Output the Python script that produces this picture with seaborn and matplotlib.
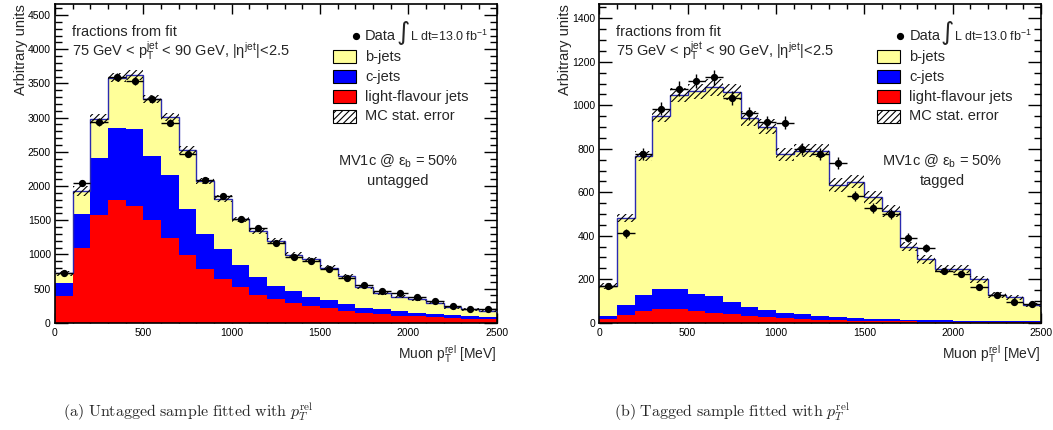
import numpy as np
import pandas as pd
import matplotlib
matplotlib.use("Agg")
import matplotlib.pyplot as plt
from matplotlib.patches import Rectangle
from matplotlib.ticker import MultipleLocator
import seaborn as sns

# ---------------- data ----------------
bin_edges = list(range(0, 2600, 100))          # Muon pT^rel bins [MeV]
flavours = ["b-jets", "c-jets", "light-flavour jets"]

# untagged sample: cumulative tops of the stack
untag_total = [722, 1930, 2980, 3585, 3625, 3273, 3015, 2522, 2073, 1815, 1512, 1340, 1195,
               990, 927, 805, 683, 527, 430, 381, 347, 293, 225, 196, 171]
untag_c_top = [575, 1590, 2415, 2850, 2835, 2440, 2160, 1660, 1293, 1073, 844, 670, 537,
               468, 381, 332, 274, 220, 195, 171, 147, 132, 108, 93, 88]
untag_light = [390, 1100, 1575, 1795, 1712, 1502, 1240, 995, 790, 640, 517, 410, 342,
               293, 244, 220, 171, 137, 122, 103, 93, 88, 73, 59, 54]
untag_mcerr = [40, 70, 70, 70, 70, 60, 60, 60, 50, 50, 40, 40, 40,
               40, 35, 35, 35, 30, 25, 25, 25, 22, 20, 20, 20]
untag_data = [730, 2040, 2935, 3590, 3540, 3278, 2927, 2473, 2083, 1854, 1517, 1390, 1170,
              957, 907, 781, 649, 554, 469, 430, 381, 317, 244, 196, 196]
untag_derr = [27, 45, 54, 60, 60, 57, 54, 50, 46, 43, 39, 37, 34,
              31, 30, 28, 25, 24, 22, 21, 20, 18, 16, 14, 14]

# tagged sample
tag_total = [169, 483, 767, 951, 1048, 1064, 1083, 1061, 940, 902, 775, 790, 790,
             633, 649, 577, 515, 350, 291, 247, 247, 199, 127, 117, 81]
tag_c_top = [31, 81, 127, 153, 155, 130, 124, 95, 74, 60, 45, 38, 31,
             25, 20, 17, 15, 13, 12, 11, 10, 9, 8, 7, 6]
tag_light = [15, 35, 55, 63, 61, 54, 46, 38, 31, 28, 20, 17, 14,
             12, 10, 8, 7, 6, 5, 4, 4, 3, 3, 2, 2]
tag_mcerr = [15, 18, 25, 30, 33, 35, 38, 38, 35, 35, 30, 30, 30,
             32, 30, 30, 28, 22, 20, 20, 20, 18, 14, 12, 10]
tag_data = [169, 411, 775, 985, 1077, 1112, 1129, 1035, 963, 922, 920, 800, 776,
            733, 584, 526, 500, 391, 342, 238, 224, 163, 127, 97, 84]
tag_derr = [12, 20, 28, 31, 33, 34, 35, 32, 31, 30, 30, 28, 28,
            27, 24, 23, 22, 20, 18, 15, 15, 13, 11, 10, 9]

y_ticks_major = [500, 200]
y_ticks_minor = [100, 50]
y_limits = [4663, 1466]
sample_names = ["untagged", "tagged"]
captions = [r"$\mathrm{(a)\ Untagged\ sample\ fitted\ with}\ p_T^{\mathrm{rel}}$",
            r"$\mathrm{(b)\ Tagged\ sample\ fitted\ with}\ p_T^{\mathrm{rel}}$"]

# ---------------- style ----------------
sns.set_theme(style="ticks")
plt.rcParams["font.family"] = ["Liberation Sans", "DejaVu Sans"]
plt.rcParams["mathtext.fontset"] = "custom"
plt.rcParams["mathtext.rm"] = "Liberation Sans"
plt.rcParams["mathtext.it"] = "Liberation Sans"
plt.rcParams["mathtext.bf"] = "Liberation Sans:bold"
plt.rcParams["hatch.linewidth"] = 0.8

palette = {"b-jets": "#ffff99", "c-jets": "#0000ff", "light-flavour jets": "#ff0000"}
outline = "#2b2bb0"

W, H = 1053, 430
fig = plt.figure(figsize=(W / 100, H / 100), dpi=100)

edges = np.array(bin_edges, dtype=float)
centers = 0.5 * (edges[:-1] + edges[1:])
halfw = 0.5 * np.diff(edges)

panels = [
    (untag_total, untag_c_top, untag_light, untag_mcerr, untag_data, untag_derr),
    (tag_total, tag_c_top, tag_light, tag_mcerr, tag_data, tag_derr),
]
ax_left_px = [55, 599.3]
ax_w_px = 441.7
ax_top_px, ax_bot_px = 4, 322.7

for i, (tot, ctop, light, mcerr, data, derr) in enumerate(panels):
    tot = np.array(tot, float)
    ctop = np.array(ctop, float)
    light = np.array(light, float)
    bvals = tot - ctop
    cvals = ctop - light
    ax = fig.add_axes([ax_left_px[i] / W, 1 - ax_bot_px / H,
                       ax_w_px / W, (ax_bot_px - ax_top_px) / H])

    df = pd.DataFrame({
        "pt": np.concatenate([centers] * 3),
        "w": np.concatenate([bvals, cvals, light]),
        "flavour": np.repeat(flavours, len(centers)),
    })
    sns.histplot(data=df, x="pt", weights="w", hue="flavour", hue_order=flavours,
                 multiple="stack", bins=list(bin_edges), element="step", fill=True,
                 palette=palette, alpha=1, linewidth=0, legend=False, ax=ax)

    # MC total outline
    ax.stairs(tot, edges, baseline=None, color=outline, lw=1.0, zorder=3)
    # MC stat. error band
    ax.bar(centers, 2 * np.array(mcerr), bottom=tot - np.array(mcerr), width=np.diff(edges),
           fill=False, hatch="/////", edgecolor="black", linewidth=0, zorder=4)
    # data
    ax.errorbar(centers, data, xerr=halfw, yerr=derr, fmt="o", ms=4.2, color="black",
                elinewidth=1.0, capsize=0, zorder=5)

    ax.set_xlim(0, 2500)
    ax.set_ylim(0, y_limits[i])
    ax.xaxis.set_major_locator(MultipleLocator(500))
    ax.xaxis.set_minor_locator(MultipleLocator(100))
    ax.yaxis.set_major_locator(MultipleLocator(y_ticks_major[i]))
    ax.yaxis.set_minor_locator(MultipleLocator(y_ticks_minor[i]))
    ax.tick_params(which="both", direction="in", top=True, right=True,
                   labelsize=7.5, colors="black", width=1.0)
    ax.tick_params(axis="y", which="major", length=9.5, pad=3)
    ax.tick_params(axis="y", which="minor", length=4.7)
    ax.tick_params(axis="x", which="major", length=7, pad=4)
    ax.tick_params(axis="x", which="minor", length=3.5)
    for s in ax.spines.values():
        s.set_linewidth(1.2)
        s.set_color("black")
    ax.grid(False)

    ax.set_ylabel("Arbitrary units", loc="top", fontsize=10.5)
    ax.yaxis.set_label_coords(-0.062, 1.0)
    ax.set_xlabel(r"Muon $\mathrm{p}_{\mathrm{T}}^{\mathrm{rel}}$ [MeV]", loc="right", fontsize=10)
    ax.xaxis.set_label_coords(1.0, -0.065)

    def fy(p):
        return (ax_bot_px - p) / (ax_bot_px - ax_top_px)

    def fx(p):
        return (p - 55) / ax_w_px

    ax.text(fx(72), fy(36), "fractions from fit", transform=ax.transAxes,
            fontsize=10.5, va="baseline", ha="left")
    ax.text(fx(72), fy(57),
            r"75 GeV < $\mathrm{p}_{\mathrm{T}}^{\mathrm{jet}}$ < 90 GeV, |$\eta^{\mathrm{jet}}$|<2.5",
            transform=ax.transAxes, fontsize=10.5, va="baseline", ha="left")

    # legend (ROOT style)
    rows = [36, 56.5, 76.5, 96.5, 116.5]
    bx0, bx1 = fx(333), fx(356)
    bh = 12.5 / (ax_bot_px - ax_top_px)
    ax.plot([fx(356)], [fy(rows[0])], "o", color="black", ms=4.2, transform=ax.transAxes,
            clip_on=False)
    ax.text(fx(365), fy(rows[0]), "Data", transform=ax.transAxes, fontsize=10.5,
            va="center", ha="left")
    ax.text(fx(396), fy(rows[0]) + 0.008, r"$\int$", transform=ax.transAxes, fontsize=13,
            va="center", ha="left", math_fontfamily="dejavusans")
    ax.text(fx(410), fy(rows[0]), r"L dt=13.0 fb$^{-1}$", transform=ax.transAxes,
            fontsize=9, va="center", ha="left")
    for r, name in zip(rows[1:4], flavours):
        ax.add_patch(Rectangle((bx0, fy(r) - bh / 2), bx1 - bx0, bh, transform=ax.transAxes,
                               facecolor=palette[name], edgecolor="black", lw=0.8))
        ax.text(fx(365), fy(r), name, transform=ax.transAxes, fontsize=10.5,
                va="center", ha="left")
    ax.add_patch(Rectangle((bx0, fy(rows[4]) - bh / 2), bx1 - bx0, bh, transform=ax.transAxes,
                           facecolor="white", edgecolor="black", lw=0.8, hatch="/////"))
    ax.text(fx(365), fy(rows[4]), "MC stat. error", transform=ax.transAxes, fontsize=10.5,
            va="center", ha="left")

    ax.text(fx(398), fy(161), r"MV1c @ $\varepsilon_{\mathrm{b}}$ = 50%", transform=ax.transAxes,
            fontsize=10.5, va="center", ha="center")
    ax.text(fx(398), fy(181), sample_names[i], transform=ax.transAxes,
            fontsize=10.5, va="center", ha="center")

    fig.text((ax_left_px[i] + 133) / W, 1 - 417 / H, captions[i], fontsize=11.5,
             ha="center", va="baseline", math_fontfamily="cm")

fig.savefig("out.png", dpi=100)
